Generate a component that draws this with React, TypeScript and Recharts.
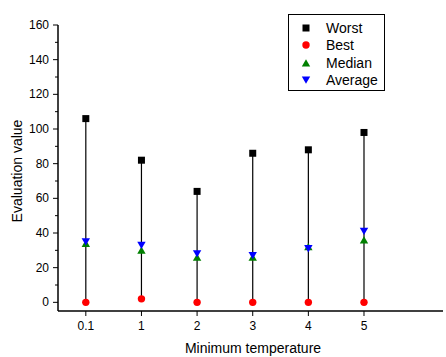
import React from "react";
import {
  ScatterChart,
  Scatter,
  XAxis,
  YAxis,
  ReferenceLine,
} from "recharts";

const categories = ["0.1", "1", "2", "3", "4", "5"];
const worstValues = [106, 82, 64, 86, 88, 98];
const bestValues = [0, 2, 0, 0, 0, 0];
const medianValues = [34, 30, 26, 26, 32, 36];
const averageValues = [35, 33, 28, 27, 31, 41];
const yTicks = [0, 10, 20, 30, 40, 50, 60, 70, 80, 90, 100, 110, 120, 130, 140, 150, 160];
const xTicks = categories.map((_, i) => i + 1);

const toPoints = (vals: number[]) => vals.map((v, i) => ({ x: i + 1, y: v }));
const worstData = toPoints(worstValues);
const bestData = toPoints(bestValues);
const medianData = toPoints(medianValues);
const averageData = toPoints(averageValues);

const FONT = "'Liberation Sans', Arial, sans-serif";

const SquareShape = (p: any) => (
  <rect x={p.cx - 3.5} y={p.cy - 3.5} width={7} height={7} fill="#000" />
);
const CircleShape = (p: any) => <circle cx={p.cx} cy={p.cy} r={3.7} fill="#ff0000" />;
const UpShape = (p: any) => (
  <polygon
    points={`${p.cx - 4.2},${p.cy + 3.5} ${p.cx + 4.2},${p.cy + 3.5} ${p.cx},${p.cy - 3.8}`}
    fill="#008000"
  />
);
const DownShape = (p: any) => (
  <polygon
    points={`${p.cx - 4.2},${p.cy - 3.5} ${p.cx + 4.2},${p.cy - 3.5} ${p.cx},${p.cy + 3.8}`}
    fill="#0000ff"
  />
);

const YTick = (p: any) => {
  const v = p.payload.value;
  const major = v % 20 === 0;
  return (
    <g>
      <line x1={58 - (major ? 5 : 3)} x2={58} y1={p.y} y2={p.y} stroke="#000" strokeWidth={1} />
      {major && (
        <text x={49} y={p.y} dy={4} textAnchor="end" fontSize={12} fontFamily={FONT} fill="#000">
          {v}
        </text>
      )}
    </g>
  );
};

const XTick = (p: any) => (
  <g>
    <line x1={p.x} x2={p.x} y1={311} y2={316} stroke="#000" strokeWidth={1} />
    <text x={p.x} y={330} textAnchor="middle" fontSize={12} fontFamily={FONT} fill="#000">
      {categories[p.payload.value - 1]}
    </text>
  </g>
);

const legendItems = [
  { label: "Worst", shape: "square" },
  { label: "Best", shape: "circle" },
  { label: "Median", shape: "up" },
  { label: "Average", shape: "down" },
];

const LegendMarker = ({ shape }: { shape: string }) => {
  const cx = 8, cy = 8;
  let el: any;
  if (shape === "square") el = <rect x={cx - 3.5} y={cy - 3.5} width={7} height={7} fill="#000" />;
  else if (shape === "circle") el = <circle cx={cx} cy={cy} r={3.7} fill="#ff0000" />;
  else if (shape === "up")
    el = <polygon points={`${cx - 4.2},${cy + 3.5} ${cx + 4.2},${cy + 3.5} ${cx},${cy - 3.8}`} fill="#008000" />;
  else el = <polygon points={`${cx - 4.2},${cy - 3.5} ${cx + 4.2},${cy - 3.5} ${cx},${cy + 3.8}`} fill="#0000ff" />;
  return (
    <svg width={16} height={16} style={{ display: "block" }}>
      {el}
    </svg>
  );
};

export default function App() {
  return (
    <div style={{ position: "absolute", left: 0, top: 0, width: 446, height: 357, background: "#fff", fontFamily: FONT }}>
      <ScatterChart width={446} height={357} margin={{ top: 25, right: 3, bottom: 16, left: 0 }}>
        <XAxis
          type="number"
          dataKey="x"
          domain={[0.5, 7.42]}
          ticks={xTicks}
          tick={<XTick />}
          tickLine={false}
          axisLine={{ stroke: "#000", strokeWidth: 1.5 }}
          height={30}
          allowDataOverflow
        />
        <YAxis
          type="number"
          dataKey="y"
          domain={[-5, 160]}
          ticks={yTicks}
          tick={<YTick />}
          tickLine={false}
          axisLine={{ stroke: "#000", strokeWidth: 1.5 }}
          width={58}
          interval={0}
          allowDataOverflow
        />
        {categories.map((c, i) => (
          <ReferenceLine
            key={c}
            segment={[
              { x: i + 1, y: bestValues[i] },
              { x: i + 1, y: worstValues[i] },
            ]}
            stroke="#000"
            strokeWidth={1.2}
          />
        ))}
        <Scatter name="Worst" data={worstData} shape={<SquareShape />} isAnimationActive={false} />
        <Scatter name="Best" data={bestData} shape={<CircleShape />} isAnimationActive={false} />
        <Scatter name="Median" data={medianData} shape={<UpShape />} isAnimationActive={false} />
        <Scatter name="Average" data={averageData} shape={<DownShape />} isAnimationActive={false} />
      </ScatterChart>
      <div
        style={{
          position: "absolute",
          left: 17,
          top: 171,
          transform: "translate(-50%, -50%) rotate(-90deg)",
          fontSize: 14,
          whiteSpace: "nowrap",
          color: "#000",
        }}
      >
        Evaluation value
      </div>
      <div
        style={{
          position: "absolute",
          left: 253,
          top: 348,
          transform: "translate(-50%, -50%)",
          fontSize: 14,
          whiteSpace: "nowrap",
          color: "#000",
        }}
      >
        Minimum temperature
      </div>
      <div
        style={{
          position: "absolute",
          left: 288,
          top: 14,
          width: 95,
          height: 75,
          border: "1px solid #000",
          boxSizing: "content-box",
        }}
      >
        {legendItems.map((it, i) => (
          <div
            key={it.label}
            style={{
              position: "absolute",
              left: 9,
              top: 4.5 + i * 17.5,
              height: 16,
              display: "flex",
              alignItems: "center",
              fontSize: 14,
              lineHeight: "16px",
              whiteSpace: "nowrap",
            }}
          >
            <LegendMarker shape={it.shape} />
            <span style={{ marginLeft: 12 }}>{it.label}</span>
          </div>
        ))}
      </div>
    </div>
  );
}
